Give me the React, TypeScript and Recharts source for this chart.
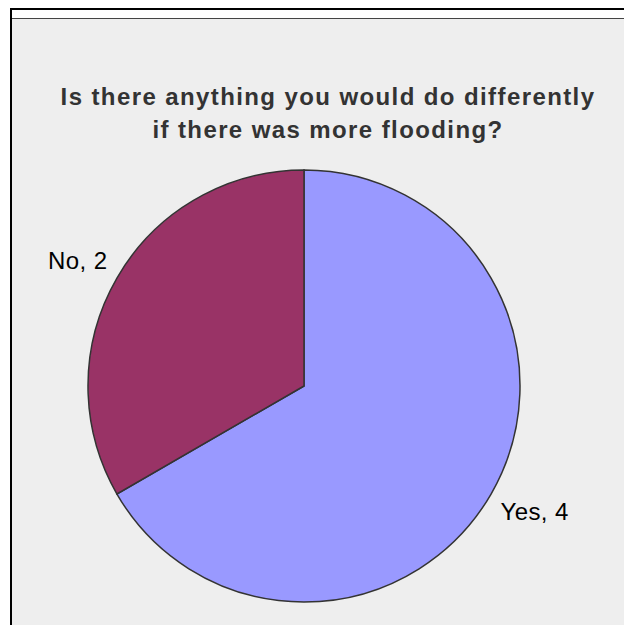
import { PieChart, Pie, Cell } from 'recharts';

const categories = ['Yes', 'No'];
const counts = [4, 2];
const sliceColors = ['#9999ff', '#993366'];
const titleLines = ['Is there anything you would do differently', 'if there was more flooding?'];

const data = categories.map((name, i) => ({ name, value: counts[i] }));

const RAD = Math.PI / 180;

// label sits just outside the rim, anchored on the side of the pie it falls on
function renderLabel(props: any) {
  const { cx, cy, midAngle, outerRadius, name, value } = props;
  const a = (midAngle - 2.5) * RAD;
  const r = outerRadius + 17;
  const x = cx + r * Math.cos(-a);
  const y = cy + r * Math.sin(-a);
  return (
    <text
      x={x}
      y={y}
      textAnchor={x > cx ? 'start' : 'end'}
      dominantBaseline="central"
      fill="#000"
      fontFamily="'Liberation Sans', Arial, sans-serif"
      fontSize={24}
      letterSpacing={0.4}
    >
      {`${name}, ${value}`}
    </text>
  );
}

export default function App() {
  return (
    <div style={{ position: 'absolute', left: 0, top: 0, width: 624, height: 625, background: '#fff', overflow: 'hidden' }}>
      {/* frame */}
      <div style={{ position: 'absolute', left: 10, top: 8, width: 614, height: 2, background: '#000' }} />
      <div style={{ position: 'absolute', left: 10, top: 8, width: 2, height: 617, background: '#000' }} />
      <div style={{ position: 'absolute', left: 12, top: 18, width: 612, height: 1, background: '#444' }} />
      <div style={{ position: 'absolute', left: 12, top: 19, width: 612, height: 606, background: '#eeeeee' }} />

      <div
        style={{
          position: 'absolute',
          left: 12,
          top: 80,
          width: 632,
          textAlign: 'center',
          fontFamily: "'Liberation Sans', Arial, sans-serif",
          fontWeight: 'bold',
          fontSize: 24,
          letterSpacing: 1.4,
          lineHeight: '33px',
          color: '#333',
        }}
      >
        {titleLines.map((l) => (
          <div key={l}>{l}</div>
        ))}
      </div>

      <div style={{ position: 'absolute', left: 0, top: 0 }}>
        <PieChart width={624} height={625}>
          <Pie
            data={data}
            dataKey="value"
            nameKey="name"
            cx={299}
            cy={381}
            outerRadius={216}
            startAngle={90}
            endAngle={-270}
            stroke="#333"
            strokeWidth={1.5}
            label={renderLabel}
            labelLine={false}
            isAnimationActive={false}
          >
            {data.map((d, i) => (
              <Cell key={d.name} fill={sliceColors[i]} />
            ))}
          </Pie>
        </PieChart>
      </div>
    </div>
  );
}
